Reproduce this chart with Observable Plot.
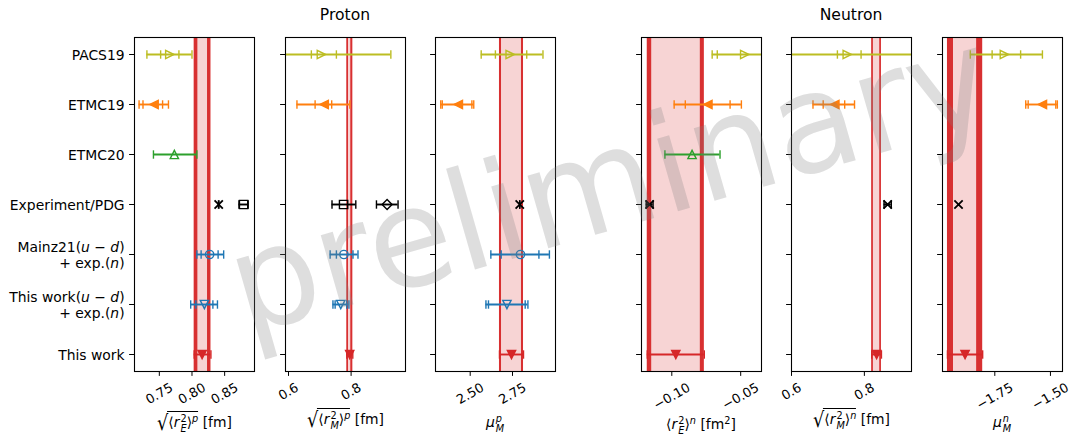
<!DOCTYPE html>
<html><head><meta charset="utf-8">
<script src="https://cdn.jsdelivr.net/npm/d3@7"></script>
<script src="https://cdn.jsdelivr.net/npm/@observablehq/plot@0.6"></script>
<style>
body{margin:0;background:#fff;font-family:"DejaVu Sans",sans-serif;color:#000;}
#chart{position:relative;width:1069px;height:436px;overflow:hidden;background:#fff;}
.title{position:absolute;transform:translateX(-50%);font-size:15.6px;line-height:1;white-space:nowrap;}
.xl{position:absolute;transform:translateX(-50%);font-size:13.9px;line-height:1;white-space:nowrap;}
.xl i{font-style:italic;}
.xl sup{font-size:70%;vertical-align:0.55em;line-height:0;}
.ss{display:inline-block;vertical-align:-0.5em;font-size:70%;line-height:1;margin-left:1px;}
.ss span{display:block;}
.ov{display:inline-block;border-top:1px solid #000;padding-top:2px;line-height:1.1;padding-left:1px;}
.rad{display:inline-block;font-size:150%;line-height:1;vertical-align:-0.17em;margin-right:-2px;transform:scaleX(0.85);}
#wm{position:absolute;left:0;top:0;pointer-events:none;}
</style></head>
<body>
<div id="chart"></div>
<script>
// ---------- data ----------
const categories = ["PACS19", "ETMC19", "ETMC20", "Experiment/PDG",
  "Mainz21(u − d)\n+ exp.(n)", "This work(u − d)\n+ exp.(n)", "This work"];
const groupTitles = ["Proton", "Neutron"];
const xDomains = [[0.712, 0.8957], [0.5904, 0.9738], [2.295, 3.004], [-0.122, -0.0349], [0.6, 0.9294], [-1.985, -1.4458]];
const xTicks = [[0.75, 0.80, 0.85], [0.6, 0.8], [2.50, 2.75], [-0.10, -0.05], [0.6, 0.8], [-1.75, -1.50]];
const xTickLabels = [["0.75", "0.80", "0.85"], ["0.6", "0.8"], ["2.50", "2.75"], ["−0.10", "−0.05"], ["0.6", "0.8"], ["−1.75", "−1.50"]];

// PACS19
const pacsVal  = [0.766, 0.705, 2.736, -0.0471, 0.753, -1.707];
const pacsStat = [[0.752, 0.780], [0.673, 0.753], [2.649, 2.834], [-0.067, -0.027], [0.726, 0.791], [-1.762, -1.634]];
const pacsTot  = [[0.731, 0.800], [0.560, 0.927], [2.565, 2.930], [-0.0707, -0.020], [0.500, 1.010], [-1.860, -1.536]];
// ETMC19
const etmc19Val  = [0.742, 0.714, 2.430, -0.0738, 0.719, -1.536];
const etmc19Stat = [[0.725, 0.755], [0.685, 0.738], [2.335, 2.510], [-0.0902, -0.0577], [0.687, 0.746], [-1.600, -1.476]];
const etmc19Tot  = [[0.719, 0.764], [0.627, 0.796], [2.326, 2.521], [-0.0983, -0.0495], [0.659, 0.773], [-1.611, -1.469]];
// ETMC20
const etmc20Val = [0.773, null, null, -0.0853, null, null];
const etmc20Tot = [[0.741, 0.8075], null, null, [-0.105, -0.065], null, null];
// Experiment / PDG
const expCrossVal = [0.8409, null, 2.7928, -0.1161, 0.864, -1.913];
const expCrossErr = [[0.8405, 0.8413], null, [2.7925, 2.7931], [-0.1186, -0.1136], [0.854, 0.874], [-1.913, -1.913]];
const expSquareVal = [0.879, 0.776, null, null, null, null];
const expSquareErr = [[0.872, 0.886], [0.739, 0.815], null, null, null, null];
const expDiamondVal = [null, 0.915, null, null, null, null];
const expDiamondErr = [null, [0.881, 0.950], null, null, null, null];
// Mainz21(u-d) + exp.(n)
const mainzVal  = [0.827, 0.777, 2.797, null, null, null];
const mainzStat = [[0.814, 0.840], [0.753, 0.806], [2.683, 2.906], null, null, null];
const mainzTot  = [[0.8075, 0.8485], [0.733, 0.822], [2.622, 2.968], null, null, null];
// This work(u-d) + exp.(n)
const udVal  = [0.819, 0.767, 2.717, null, null, null];
const udStat = [[0.806, 0.832], [0.749, 0.786], [2.608, 2.825], null, null, null];
const udTot  = [[0.798, 0.839], [0.742, 0.793], [2.593, 2.841], null, null, null];
// This work
const twVal  = [0.8155, 0.7955, 2.744, -0.0971, 0.8336, -1.8836];
const twStat = [[0.809, 0.8238], [0.7917, 0.799], [2.685, 2.803], [-0.1146, -0.0793], [0.8248, 0.8422], [-1.9356, -1.8316]];
const twTot  = [[0.8034, 0.829], [0.7863, 0.8054], [2.673, 2.815], [-0.1178, -0.0764], [0.8201, 0.8469], [-1.9627, -1.8045]];

// ---------- styling ----------
const RED = "#d62728";
const mk = f => ({draw(ctx, size) { const r = Math.sqrt(size / Math.PI); f(ctx, r); }});
const SYM = {
  right: mk((c, r) => { c.moveTo(r, 0); c.lineTo(-r, -r); c.lineTo(-r, r); c.closePath(); }),
  left: mk((c, r) => { c.moveTo(-r, 0); c.lineTo(r, -r); c.lineTo(r, r); c.closePath(); }),
  up: mk((c, r) => { c.moveTo(0, -r); c.lineTo(r, r); c.lineTo(-r, r); c.closePath(); }),
  down: mk((c, r) => { c.moveTo(0, r); c.lineTo(r, -r); c.lineTo(-r, -r); c.closePath(); }),
  circle: mk((c, r) => { c.moveTo(r, 0); c.arc(0, 0, r, 0, 2 * Math.PI); c.closePath(); }),
  square: mk((c, r) => { c.rect(-r, -r, 2 * r, 2 * r); }),
  diamond: mk((c, r) => { const d = r * 1.2; c.moveTo(0, -d); c.lineTo(d, 0); c.lineTo(0, d); c.lineTo(-d, 0); c.closePath(); }),
  cross: mk((c, r) => { c.moveTo(-r, -r); c.lineTo(r, r); c.moveTo(-r, r); c.lineTo(r, -r); }),
  cap: mk((c, r) => { c.moveTo(0, -r); c.lineTo(0, r); })
};
const series = [
  {cat: categories[0], val: pacsVal, stat: pacsStat, tot: pacsTot, color: "#bcbd22", symbol: SYM.right, filled: false},
  {cat: categories[1], val: etmc19Val, stat: etmc19Stat, tot: etmc19Tot, color: "#ff7f0e", symbol: SYM.left, filled: true},
  {cat: categories[2], val: etmc20Val, stat: null, tot: etmc20Tot, color: "#2ca02c", symbol: SYM.up, filled: false},
  {cat: categories[3], val: expCrossVal, stat: null, tot: expCrossErr, color: "#000000", symbol: SYM.cross, filled: false, sw: 1.8},
  {cat: categories[3], val: expSquareVal, stat: null, tot: expSquareErr, color: "#000000", symbol: SYM.square, filled: false},
  {cat: categories[3], val: expDiamondVal, stat: null, tot: expDiamondErr, color: "#000000", symbol: SYM.diamond, filled: false},
  {cat: categories[4], val: mainzVal, stat: mainzStat, tot: mainzTot, color: "#1f77b4", symbol: SYM.circle, filled: false},
  {cat: categories[5], val: udVal, stat: udStat, tot: udTot, color: "#1f77b4", symbol: SYM.down, filled: false},
  {cat: categories[6], val: twVal, stat: null, tot: twTot, color: RED, symbol: SYM.down, filled: true}
];

const W = 120;
const frameLefts = [134, 285, 435, 641, 791, 942];
const TICKFONT = 13.0;
const chart = document.getElementById("chart");
const measure = document.createElement("canvas").getContext("2d");
measure.font = TICKFONT + "px 'DejaVu Sans'";

function italicizeLabels(svg) {
  const ns = "http://www.w3.org/2000/svg";
  svg.querySelectorAll("text, tspan").forEach(el => {
    if (el.children.length) return;
    const t = el.textContent;
    if (!/\([udn −]+\)/.test(t)) return;
    const segs = t.split(/(\([udn −]+\))/);
    el.textContent = "";
    for (const s of segs) {
      if (/^\([udn −]+\)$/.test(s)) {
        for (const ch of s) {
          if ("udn".includes(ch)) {
            const ts = document.createElementNS(ns, "tspan");
            ts.setAttribute("font-style", "italic");
            ts.textContent = ch;
            el.appendChild(ts);
          } else el.appendChild(document.createTextNode(ch));
        }
      } else if (s) el.appendChild(document.createTextNode(s));
    }
  });
}

function makePanel(p) {
  const ml = p === 0 ? 134 : 30, mr = p === 5 ? 7 : 30;
  const rows = [];
  for (const s of series) {
    const v = s.val[p];
    if (v == null) continue;
    rows.push({cat: s.cat, v, tot: s.tot[p], stat: s.stat ? s.stat[p] : null, color: s.color, symbol: s.symbol, filled: s.filled, sw: s.sw || 1.4});
  }
  const caps = [];
  for (const r of rows) {
    if (r.tot[1] - r.tot[0] > 1e-6) { caps.push({cat: r.cat, x: r.tot[0], color: r.color}); caps.push({cat: r.cat, x: r.tot[1], color: r.color}); }
    if (r.stat) { caps.push({cat: r.cat, x: r.stat[0], color: r.color}); caps.push({cat: r.cat, x: r.stat[1], color: r.color}); }
  }
  const band = [{tot: twTot[p], stat: twStat[p]}];
  const tickLabelMarks = xTicks[p].map((v, i) => {
    const s = xTickLabels[p][i];
    const w = measure.measureText(s).width;
    const bboxH = w * 0.5 + 15 * 0.866;
    return Plot.text([{v, s}], {x: "v", text: "s", frameAnchor: "bottom", rotate: -30, textAnchor: "middle", lineAnchor: "middle", dy: 8.5 + bboxH / 2, fontSize: TICKFONT, fill: "#000"});
  });
  const plot = Plot.plot({
    width: ml + W + mr, height: 436,
    marginLeft: ml, marginRight: mr, marginTop: 37, marginBottom: 65,
    style: {background: "transparent", overflow: "visible", fontFamily: "'DejaVu Sans', sans-serif", fontSize: "13.9px", color: "#000"},
    x: {domain: xDomains[p], axis: null},
    y: {type: "point", domain: categories, padding: 0.3, axis: null},
    marks: [
      Plot.rect(band, {x1: d => d.tot[0], x2: d => d.tot[1], fill: RED, fillOpacity: 0.2}),
      Plot.rect(band, {x1: d => d.tot[0], x2: d => d.stat[0], fill: RED, fillOpacity: 0.95}),
      Plot.rect(band, {x1: d => d.stat[1], x2: d => d.tot[1], fill: RED, fillOpacity: 0.95}),
      Plot.ruleY(rows, {y: "cat", x1: d => d.tot[0], x2: d => d.tot[1], stroke: "color", strokeWidth: 1.9, clip: true}),
      Plot.dot(caps, {x: "x", y: "cat", stroke: "color", fill: "none", symbol: SYM.cap, r: 4.2, strokeWidth: 1.4, clip: true}),
      ...rows.map(r => Plot.dot([r], {x: "v", y: "cat", symbol: r.symbol, r: 4.15, fill: r.filled ? r.color : "none", stroke: r.color, strokeWidth: r.sw})),
      Plot.frame({stroke: "#000", strokeWidth: 1.1}),
      Plot.axisX({ticks: xTicks[p], tickSize: 4.9, fill: "none", stroke: "#000", label: null, anchor: "bottom"}),
      ...tickLabelMarks,
      p === 0
        ? Plot.axisY({anchor: "left", tickSize: 4.9, tickPadding: 5, label: null, lineHeight: 1.2, fontSize: 13.9, fill: "#000", stroke: "#000"})
        : Plot.axisY({anchor: "left", tickSize: 4.9, fill: "none", stroke: "#000", label: null})
    ]
  });
  plot.style.position = "absolute";
  plot.style.left = (frameLefts[p] - ml) + "px";
  plot.style.top = "0px";
  chart.appendChild(plot);
  if (p === 0) italicizeLabels(plot);
}
for (let p = 0; p < 6; p++) makePanel(p);

// group titles
[1, 4].forEach((p, i) => {
  const d = document.createElement("div");
  d.className = "title";
  d.textContent = groupTitles[i];
  d.style.left = (frameLefts[p] + W / 2) + "px";
  d.style.top = "8px";
  chart.appendChild(d);
});

// x-axis labels (math)
const brk = (sub, sup) => `⟨<i>r</i><span class="ss"><span>2</span><span><i>${sub}</i></span></span>⟩<sup><i>${sup}</i></sup>`;
const sqrt = inner => `<span class="rad">√</span><span class="ov">${inner}</span>`;
const xLabels = [
  sqrt(brk("E", "p")) + " [fm]",
  sqrt(brk("M", "p")) + " [fm]",
  `<i>μ</i><span class="ss"><span><i>p</i></span><span><i>M</i></span></span>`,
  brk("E", "n") + " [fm<sup>2</sup>]",
  sqrt(brk("M", "n")) + " [fm]",
  `<i>μ</i><span class="ss"><span><i>n</i></span><span><i>M</i></span></span>`
];
const xLabelTops = [411, 408, 414, 416, 408, 414];
xLabels.forEach((h, p) => {
  const d = document.createElement("div");
  d.className = "xl";
  d.innerHTML = h;
  d.style.left = (frameLefts[p] + W / 2) + "px";
  d.style.top = xLabelTops[p] + "px";
  chart.appendChild(d);
});

// watermark
const ns = "http://www.w3.org/2000/svg";
const wm = document.createElementNS(ns, "svg");
wm.setAttribute("id", "wm");
wm.setAttribute("width", 1069);
wm.setAttribute("height", 436);
const t = document.createElementNS(ns, "text");
t.setAttribute("transform", "translate(623,227) rotate(-16)");
t.setAttribute("text-anchor", "middle");
t.setAttribute("font-family", "DejaVu Sans");
t.setAttribute("font-size", 138);
t.setAttribute("fill", "#808080");
t.setAttribute("fill-opacity", 0.26);
t.textContent = "preliminary";
wm.appendChild(t);
chart.appendChild(wm);
</script>
</body></html>
